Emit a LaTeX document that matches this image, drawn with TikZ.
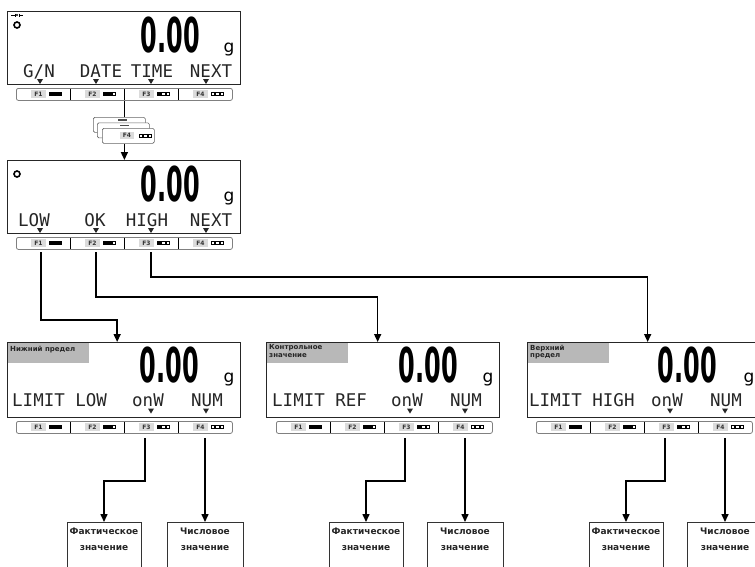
\documentclass[tikz,border=0pt]{standalone}
\usepackage{fontspec}
\usepackage{graphicx}
\setmainfont{DejaVu Sans}
\newfontfamily\lcdfont{DejaVu Sans Mono}
\usetikzlibrary{arrows.meta}
\tikzset{
  disp/.style={draw=black!85, line width=1.3pt, fill=white, anchor=north west, inner sep=0pt, minimum width=233pt},
  keyframe/.style={draw=black!50, line width=0.8pt, rounded corners=2pt, anchor=north west, inner sep=0pt, minimum width=216pt, minimum height=12pt},
  keydiv/.style={line width=1pt, black},
  fkey/.style={font=\fontsize{6}{6}\selectfont\bfseries, fill=black!14, inner xsep=3pt, inner ysep=1.5pt, text=black!80},
  lcdtxt/.style={font=\lcdfont\fontsize{17.5}{18}\selectfont, inner sep=0pt, text=black!85},
  bignum/.style={font=\fontsize{48}{48}\selectfont\bfseries, inner sep=0pt, anchor=base east},
  unit/.style={font=\fontsize{17}{17}\selectfont, inner sep=0pt, anchor=base},
  conn/.style={line width=1.5pt, black},
  arr/.style={conn, -{Triangle[length=8pt,width=7pt]}},
  graylab/.style={fill=black!28, anchor=north west, minimum width=81pt, minimum height=20pt, inner sep=0pt},
  labtxt/.style={font=\fontsize{7}{7.5}\selectfont\bfseries, align=left, anchor=north west, inner sep=0pt, text=black!85},
  resbox/.style={draw=black!80, line width=0.9pt, anchor=north, minimum width=74pt, minimum height=52pt, inner sep=0pt},
  restxt/.style={font=\fontsize{9}{16}\selectfont\bfseries, align=center, anchor=north, inner sep=0pt, text=black!85},
  stackkey/.style={draw=black!60, line width=0.7pt, fill=white, anchor=north west, minimum width=52pt, minimum height=15pt, rounded corners=1.5pt, inner sep=0pt},
}
\newcommand\keybar[3]{%
  \node[keyframe] (#1) at (#2,#3) {};
  \begin{scope}[shift={(#2,#3)}]
  \foreach \i/\nn/\pa/\pb/\pc in {0/1/black/black/black,1/2/black/black/white,2/3/black/white/white,3/4/white/white/white}{
    \node[fkey] (#1f\i) at ({54*\i+22.5},6) {F\nn};
    \filldraw[fill=\pa,draw=black,line width=0.4pt] ({54*\i+33},4.5) rectangle ++(3.5,3);
    \filldraw[fill=\pb,draw=black,line width=0.4pt] ({54*\i+37.5},4.5) rectangle ++(3.5,3);
    \filldraw[fill=\pc,draw=black,line width=0.4pt] ({54*\i+42},4.5) rectangle ++(3.5,3);
    \ifnum\i<3 \draw[keydiv] ({54*\i+54},0.5) -- ({54*\i+54},11.5); \fi
  }
  \end{scope}}
\newcommand\tri[2]{\fill[black!85] (#1-3,#2) -- (#1+3,#2) -- (#1,#2+5) -- cycle;}
\begin{document}
\begin{tikzpicture}[x=1pt,y=-1pt]
\useasboundingbox (0,0) rectangle (755,566);
\clip (0,0) rectangle (755,566);
\fill[white] (0,0) rectangle (755,566);

% ---------- Display 1
\begin{scope}[shift={(7,11)}]
  \node[disp, minimum height=73pt] (D1) at (0,0) {};
  \draw[line width=1.6pt] (10,14) circle (3pt);
  \fill (10,4) circle (1.2pt);
  \draw[line width=0.6pt] (4,4) -- (8,4) (12,4) -- (16,4) (8,2.5) -- (8,5.5) (12,2.5) -- (12,5.5);
  \node[bignum] (N1) at (193,41) {\scalebox{0.5}[1]{0.00}};
  \node[unit] (G1) at (222,41) {g};
  \node[lcdtxt, anchor=base] (L1a) at (32,66) {G/N};
  \node[lcdtxt, anchor=base] (L1b) at (94,66) {DATE};
  \node[lcdtxt, anchor=base] (L1c) at (145,66) {TIME};
  \node[lcdtxt, anchor=base] (L1d) at (204,66) {NEXT};
  \tri{33}{68}\tri{89}{68}\tri{144}{68}\tri{199}{68}
\end{scope}
\keybar{K1}{16}{88}

% ---------- stacked key icon
\node[stackkey] (S1) at (93,117) {};
\fill[black!70] (118,119) rectangle (127,120.5);
\node[stackkey] (S2) at (97,122.5) {};
\fill[black!70] (120,124.5) rectangle (129,126);
\node[stackkey] (S3) at (102,128) {};
\node[fkey] (S3f) at (127,135.5) {F4};
\foreach \px in {139,143.5,148}{\draw[line width=0.4pt] (\px,134) rectangle ++(3.5,3);}
\draw[conn] (K1.south) -- (K1.south |- S1.north);

% ---------- Display 2
\begin{scope}[shift={(7,160)}]
  \node[disp, minimum height=73pt] (D2) at (0,0) {};
  \draw[line width=1.6pt] (10,14) circle (3pt);
  \node[bignum] (N2) at (193,41) {\scalebox{0.5}[1]{0.00}};
  \node[unit] (G2) at (222,41) {g};
  \node[lcdtxt, anchor=base] (L2a) at (27,66) {LOW};
  \node[lcdtxt, anchor=base] (L2b) at (88,66) {OK};
  \node[lcdtxt, anchor=base] (L2c) at (140,66) {HIGH};
  \node[lcdtxt, anchor=base] (L2d) at (204,66) {NEXT};
  \tri{33}{68}\tri{89}{68}\tri{144}{68}\tri{199}{68}
\end{scope}
\keybar{K2}{16}{237}
\draw[arr] (S3.south -| K1.south) -- (D2.north -| K1.south);

% ---------- Displays 3-5
\begin{scope}[shift={(7,342)}]
  \node[disp, minimum height=75pt] (D3) at (0,0) {};
  \node[graylab] (H3) at (0.7,0.7) {};
  \node[labtxt] (H3t) at (3,4) {Нижний предел};
  \node[bignum] (N3) at (192,40) {\scalebox{0.5}[1]{0.00}};
  \node[unit] (G3) at (222,40) {g};
  \node[lcdtxt, anchor=base west] (L3a) at (5,64) {LIMIT LOW};
  \node[lcdtxt, anchor=base] (L3b) at (141,64) {onW};
  \node[lcdtxt, anchor=base] (L3c) at (200,64) {NUM};
  \tri{144}{66.5}\tri{199}{66.5}
\end{scope}
\keybar{K3}{16}{421}

\begin{scope}[shift={(266,342)}]
  \node[disp, minimum height=75pt] (D4) at (0,0) {};
  \node[graylab] (H4) at (0.7,0.7) {};
  \node[labtxt] (H4t) at (3,2.5) {Контрольное\\значение};
  \node[bignum] (N4) at (192,40) {\scalebox{0.5}[1]{0.00}};
  \node[unit] (G4) at (222,40) {g};
  \node[lcdtxt, anchor=base west] (L4a) at (6,64) {LIMIT REF};
  \node[lcdtxt, anchor=base] (L4b) at (141,64) {onW};
  \node[lcdtxt, anchor=base] (L4c) at (200,64) {NUM};
  \tri{144}{66.5}\tri{199}{66.5}
\end{scope}
\keybar{K4}{276}{421}

\begin{scope}[shift={(527,342)}]
  \node[disp, minimum height=75pt] (D5) at (0,0) {};
  \node[graylab] (H5) at (0.7,0.7) {};
  \node[labtxt] (H5t) at (3,2.5) {Верхний\\предел};
  \node[bignum] (N5) at (190,40) {\scalebox{0.5}[1]{0.00}};
  \node[unit] (G5) at (222,40) {g};
  \node[lcdtxt, anchor=base west] (L5a) at (2,64) {LIMIT HIGH};
  \node[lcdtxt, anchor=base] (L5b) at (140,64) {onW};
  \node[lcdtxt, anchor=base] (L5c) at (199,64) {NUM};
  \tri{143}{66.5}\tri{198}{66.5}
\end{scope}
\keybar{K5}{536}{421}

% ---------- connectors from display 2
\coordinate (c21) at (41,252);
\coordinate (c22) at (96,252);
\coordinate (c23) at (151,252);
\draw[arr] (c21) -- ++(0,68) -| ([xshift=-7pt]D3.north);
\draw[arr] (c22) -- ++(0,45) -| ([xshift=-5.5pt]D4.north);
\draw[arr] (c23) -- ++(0,25) -| ([xshift=3.5pt]D5.north);

% ---------- result boxes
\node[resbox] (B3a) at (104,522) {};
\node[resbox, minimum width=76pt] (B3b) at (205,522) {};
\node[resbox] (B4a) at (366,522) {};
\node[resbox, minimum width=76pt] (B4b) at (465,522) {};
\node[resbox] (B5a) at (626,522) {};
\node[resbox, minimum width=76pt] (B5b) at (725,522) {};
\node[restxt] (T3a) at ([yshift=-6pt]B3a.north) {Фактическое\\значение};
\node[restxt] (T3b) at ([yshift=-6pt]B3b.north) {Числовое\\значение};
\node[restxt] (T4a) at ([yshift=-6pt]B4a.north) {Фактическое\\значение};
\node[restxt] (T4b) at ([yshift=-6pt]B4b.north) {Числовое\\значение};
\node[restxt] (T5a) at ([yshift=-6pt]B5a.north) {Фактическое\\значение};
\node[restxt] (T5b) at ([yshift=-6pt]B5b.north) {Числовое\\значение};

% ---------- connectors from displays 3-5
\coordinate (h) at (0,481);
\coordinate (c31) at (145,438); \coordinate (c32) at (205,438);
\coordinate (c41) at (405,438); \coordinate (c42) at (465,438);
\coordinate (c51) at (665,438); \coordinate (c52) at (725,438);
\draw[arr] (c31) -- (c31 |- h) -| (B3a.north);
\draw[arr] (c32) -- (B3b.north);
\draw[arr] (c41) -- (c41 |- h) -| (B4a.north);
\draw[arr] (c42) -- (B4b.north);
\draw[arr] (c51) -- (c51 |- h) -| (B5a.north);
\draw[arr] (c52) -- (B5b.north);
\end{tikzpicture}
\end{document}
